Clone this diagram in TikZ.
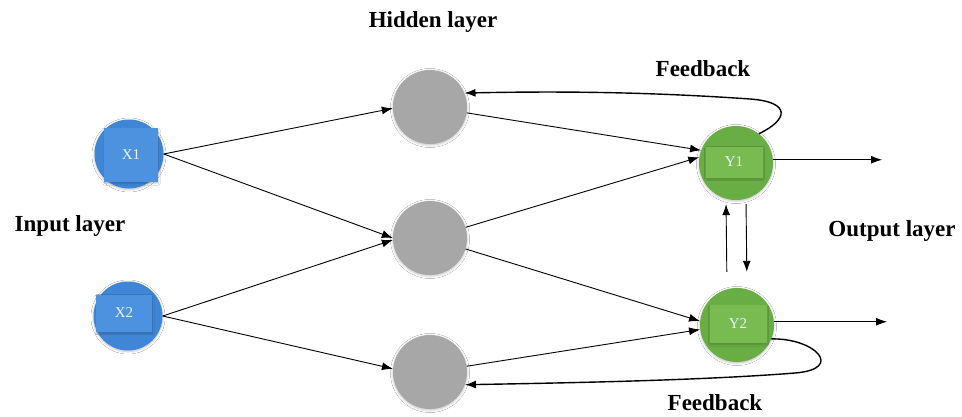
\documentclass[tikz,border=0pt]{standalone}
\usepackage{fontspec}
\setmainfont{Liberation Serif}
\usetikzlibrary{arrows.meta,shadows.blur}
\definecolor{xblue}{HTML}{3F86D6}
\definecolor{xbluerect}{HTML}{4C92DF}
\definecolor{ygreen}{HTML}{69AE44}
\definecolor{ygreenrect}{HTML}{78BB50}
\definecolor{hgray}{HTML}{A7A7A7}
\definecolor{labtext}{HTML}{EAF2FF}
\begin{document}
\begin{tikzpicture}[x=1pt,y=-1pt,
  glow/.style={blur shadow={shadow xshift=0pt,shadow yshift=-1pt,shadow blur radius=2.5pt,shadow scale=1.0,shadow opacity=25}},
  xnode/.style={circle,fill=xblue,minimum size=69pt,inner sep=0pt,glow},
  hnode/.style={circle,fill=hgray,minimum size=74pt,inner sep=0pt,glow},
  ynode/.style={circle,fill=ygreen,minimum size=74pt,inner sep=0pt,glow},
  rectshadow/.style={blur shadow={shadow xshift=0.5pt,shadow yshift=-1.5pt,shadow blur radius=1.5pt,shadow opacity=20}},
  xrect/.style={rectangle,fill=xbluerect,inner sep=0pt,rectshadow,text=labtext,font=\fontsize{15}{18}\selectfont},
  yrect/.style={rectangle,fill=ygreenrect,inner sep=0pt,rectshadow,text=labtext,font=\fontsize{15}{18}\selectfont},
  title/.style={font=\fontsize{23}{27}\selectfont\bfseries,inner sep=0pt},
  conn/.style={draw=black,line width=0.9pt,-{Latex[length=11pt,width=8pt]}},
  fb/.style={draw=black,line width=1.4pt,-{Latex[length=11pt,width=8pt]}}
]
\useasboundingbox[fill=white] (0,0) rectangle (962,416);

% input nodes
\node[xnode] (x1) at (129,154) {};
\node[xrect,minimum width=54pt,minimum height=54pt] (x1r) at (131,155) {X1};
\node[xnode] (x2) at (128,316) {};
\node[xrect,minimum width=56pt,minimum height=37pt] (x2r) at (124,313) {X2};

% hidden nodes
\node[hnode] (h1) at (430,107) {};
\node[hnode] (h2) at (430,238) {};
\node[hnode] (h3) at (430,372) {};

% output nodes
\node[ynode] (y1) at (736,163) {};
\node[yrect,minimum width=57pt,minimum height=31pt] (y1r) at (734,162) {Y1};
\node[ynode] (y2) at (737,325) {};
\node[yrect,minimum width=57pt,minimum height=38pt] (y2r) at (738,324) {Y2};

% titles
\node[title] (thid) at (433,22) {Hidden layer};
\node[title] (tin) at (70,226) {Input layer};
\node[title] (tout) at (892,231) {Output layer};
\node[title] (tfb1) at (703,69) {Feedback};
\node[title] (tfb2) at (715,403) {Feedback};

% input -> hidden
\draw[conn] (x1.east) -- (h1.182);
\draw[conn] (x1.east) -- (h2.west);
\draw[conn] (x2.east) -- (h2.183);
\draw[conn] (x2.east) -- (h3.175);

% hidden -> output
\draw[conn] (h1) -- (y1.160);
\draw[conn] (h2) -- (y1.171);
\draw[conn] (h2) -- (y2.174);
\draw[conn] (h3) -- (y2.187);

% between outputs
\draw[conn,shorten <=16pt,shorten >=4pt] ([xshift=-10pt]y2.north) -- ([xshift=-10pt]y1.south);
\draw[conn,shorten <=4pt,shorten >=16pt] ([xshift=10pt]y1.south) -- ([xshift=10pt]y2.north);

% outputs
\path (y1.5) ++(109,0) coordinate (o1);
\path (y2.5) ++(113,0) coordinate (o2);
\draw[conn] (y1.5) -- (o1);
\draw[conn] (y2.5) -- (o2);

% feedback loops
\draw[fb] (y1.52) .. controls (788,120) and (792,102) .. (750,99)
  .. controls (650,92) and (560,91) .. (h1.22);
\draw[fb] (y2.-22) .. controls (815,338) and (845,369) .. (795,373)
  .. controls (700,380.6) and (560,383) .. (h3.-20);
\end{tikzpicture}
\end{document}
